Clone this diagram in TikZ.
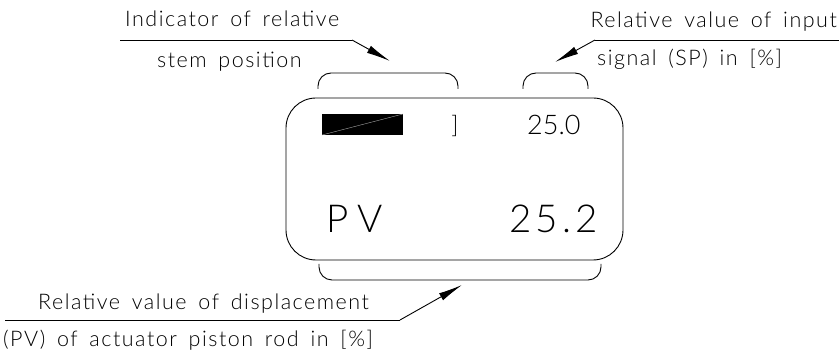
\documentclass[tikz,border=0pt]{standalone}
\usepackage{fontspec}
\setmainfont{Lato}[UprightFont=* Light]
\newfontfamily\cadtext{Lato}[UprightFont=* Light, LetterSpace=7, WordSpace=1.6]
\newfontfamily\cadsmall{Lato}[UprightFont=* Light, LetterSpace=0]
\newfontfamily\caddisp{Lato}[UprightFont=* Light, LetterSpace=11]
\usetikzlibrary{arrows.meta}
\begin{document}
\begin{tikzpicture}[x=1pt,y=-1pt,
  label/.style={inner sep=0pt, anchor=base west, font=\cadtext\fontsize{21.5}{24}\selectfont},
  small/.style={inner sep=0pt, anchor=base west, font=\cadsmall\fontsize{27}{30}\selectfont},
  big/.style={inner sep=0pt, anchor=base west, font=\caddisp\fontsize{38.5}{42}\selectfont},
  leader/.style={line width=0.9pt},
  pointer/.style={line width=0.9pt, -{Latex[length=24pt,width=8pt]}},
  bracket/.style={line width=0.9pt, rounded corners=13pt},
  panel/.style={line width=0.9pt, rounded corners=30pt}]
\useasboundingbox (0,0) rectangle (839,352);
% texts
\node[label] (t1a) at (125,27) {Indicator of relative};
\node[label] (t1b) at (157,68) {stem position};
\node[label, anchor=base east] (t2a) at (837,28) {Relative value of input};
\node[label] (t2b) at (597,66) {signal (SP) in [\%]};
\node[label] (t3a) at (38,310) {Relative value of displacement};
\node[label] (t3b) at (3,347) {(PV) of actuator piston rod in [\%]};
% leaders
\coordinate (l1s) at (120,40); \coordinate (l1k) at (352,40); \coordinate (l1t) at (390,61);
\coordinate (l2s) at (839,40); \coordinate (l2k) at (595,40); \coordinate (l2t) at (555,62);
\coordinate (l3s) at (5,320);  \coordinate (l3k) at (400,320); \coordinate (l3t) at (462,285);
\draw[leader] (l1s) -- (l1k);
\draw[pointer] (l1k) -- (l1t);
\draw[leader] (l2s) -- (l2k);
\draw[pointer] (l2k) -- (l2t);
\draw[leader] (l3s) -- (l3k);
\draw[pointer] (l3k) -- (l3t);
% brackets
\draw[bracket] (318,89) -- (318,73) -- (458,73) -- (458,89);
\draw[bracket] (523,89) -- (523,73) -- (588,73) -- (588,89);
\draw[bracket] (319,264) -- (319,280) -- (601,280) -- (601,264);
% panel
\draw[panel] (286,98) rectangle (623,260);
% bar indicator
\fill (322,114) rectangle (403,135);
\draw[gray!70, line width=0.4pt] (322,135) -- (403,114);
\node[inner sep=0pt, font=\fontsize{24}{26}\selectfont] (br) at (455,125.5) {]};
% values
\node[small] (sp) at (527,135) {25.0};
\node[big] (pv) at (326,233) {P\kern9pt V};
\node[big] (val) at (509,233) {25.2};
\end{tikzpicture}
\end{document}
